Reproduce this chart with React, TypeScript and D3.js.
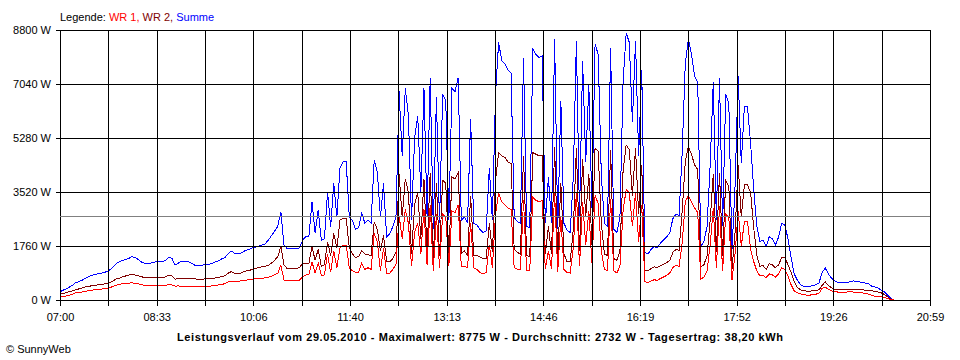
import React, { useEffect, useRef } from "react";
import * as d3 from "d3";

// time axis: 07:00 .. 20:59, samples every 3 minutes starting 07:00
const startMinute = 420;
const endMinute = 1259;
const stepMinutes = 3;

const xTickLabels = ["07:00", "08:33", "10:06", "11:40", "13:13", "14:46", "16:19", "17:52", "19:26", "20:59"];
const yTicks = [0, 1760, 3520, 5280, 7040, 8800];
const average = 2732;

const legendItems = [
    { text: "WR 1", color: "#ff0000" },
    { text: "WR 2", color: "#800000" },
    { text: "Summe", color: "#0000ff" },
];

const title = "Leistungsverlauf vom 29.05.2010 - Maximalwert: 8775 W - Durchschnitt: 2732 W - Tagesertrag: 38,20 kWh";

// Summe (W)
const summe = [
    270, 320, 360, 420, 480, 560, 600, 640, 700, 750,
    800, 830, 850, 860, 900, 920, 980, 1080, 1180, 1240,
    1290, 1310, 1350, 1410, 1390, 1330, 1250, 1200, 1190, 1200,
    1230, 1250, 1250, 1240, 1300, 1400, 1350, 1140, 1200, 1260,
    1270, 1250, 1220, 1150, 1110, 1120, 1140, 1170, 1170, 1200,
    1250, 1280, 1340, 1380, 1500, 1600, 1530, 1530, 1520, 1580,
    1630, 1660, 1710, 1730, 1760, 1790, 1830, 1960, 2100, 2250,
    2400, 2880, 1790, 1680, 1680, 1680, 1680, 1700, 1950, 2060,
    2060, 3200, 2180, 2930, 1950, 2000, 3530, 2390, 3810, 2710,
    4300, 4500, 4500, 2710, 2600, 2310, 2360, 2830, 2500, 2600,
    2500, 4560, 4180, 2700, 3800, 2060, 2150, 2400, 2700, 6800,
    4700, 6900, 6000, 2600, 5300, 6000, 3500, 6900, 2700, 7250,
    2300, 6600, 2500, 6700, 6500, 2600, 6900, 6800, 7250, 2600,
    2700, 2500, 5900, 2500, 2450, 2300, 2200, 2250, 4300, 2600,
    6700, 8400, 7800, 7700, 7500, 7400, 2700, 2550, 2500, 7900,
    2400, 2350, 8200, 8000, 7900, 7950, 2500, 4000, 2500, 8500,
    2300, 6500, 2500, 2280, 2200, 4000, 8450, 2700, 7800, 4500,
    7000, 3000, 8350, 8000, 4100, 2500, 2400, 8200, 2300, 2200,
    2700, 7100, 8700, 8400, 5800, 8450, 4700, 7500, 1550, 1500,
    1650, 1750, 1700, 1850, 1950, 2050, 2180, 2650, 2800, 2750,
    4800, 7700, 8500, 8000, 7300, 7100, 1750, 1900, 2400, 4400,
    7100, 2600, 7230, 2400, 6700, 6400, 1600, 3700, 7300, 4450,
    6300, 6300, 5100, 3600, 2400, 1900, 1950, 1750, 2060, 2000,
    1800, 2050, 2500, 2450, 2000, 1400, 850, 650, 500, 450,
    430, 440, 470, 500, 560, 900, 1040, 850, 710, 620,
    570, 565, 565, 570, 600, 620, 610, 590, 570, 550,
    520, 450, 420, 390, 320, 270, 170, 60, 0,
];

// WR 2 (W)
const wr2 = [
    185, 210, 240, 270, 300, 330, 360, 390, 420, 440,
    460, 480, 490, 500, 520, 540, 570, 620, 680, 710,
    750, 780, 810, 840, 820, 790, 760, 740, 720, 730,
    730, 720, 720, 730, 760, 810, 790, 680, 690, 700,
    700, 700, 700, 690, 680, 680, 680, 690, 700, 710,
    720, 740, 760, 790, 870, 920, 880, 880, 870, 920,
    950, 970, 1000, 1030, 1060, 1080, 1100, 1130, 1200, 1300,
    1410, 1740, 1140, 1030, 1030, 1030, 1030, 1050, 1195, 1195,
    1195, 1740, 1300, 1650, 1100, 1150, 1900, 1450, 2170, 1700,
    2600, 2660, 2660, 1700, 1500, 1380, 1420, 1600, 1500, 1480,
    1450, 2550, 2300, 1600, 2100, 1250, 1250, 1350, 1550, 4100,
    2700, 3950, 3500, 1500, 3100, 3500, 2000, 3950, 1550, 4150,
    1350, 3800, 1450, 3900, 3800, 1500, 4000, 3950, 4150, 1500,
    1600, 1450, 3400, 1450, 1450, 1400, 1350, 1350, 2500, 1550,
    3900, 4800, 4700, 4650, 4500, 4450, 1650, 1550, 1500, 4700,
    1450, 1400, 4800, 4750, 4700, 4700, 1500, 2400, 1500, 5000,
    1400, 3800, 1500, 1250, 1250, 2300, 4950, 1600, 4600, 2700,
    4100, 1800, 4950, 4850, 2500, 1500, 1450, 4900, 1350, 1300,
    1600, 4200, 5050, 4900, 3400, 4950, 2800, 4400, 980, 950,
    1020, 1080, 1060, 1120, 1170, 1220, 1280, 1550, 1650, 1620,
    2900, 4500, 5000, 4750, 4400, 4250, 1080, 1150, 1450, 2600,
    4100, 1550, 4150, 1450, 3900, 3700, 1000, 2200, 4400, 2700,
    3750, 3750, 3500, 2350, 1450, 1100, 1120, 1000, 1180, 1150,
    1050, 1150, 1380, 1400, 1150, 900, 600, 420, 330, 300,
    290, 290, 300, 310, 330, 480, 590, 480, 400, 350,
    340, 340, 340, 350, 350, 350, 340, 330, 330, 320,
    310, 300, 280, 260, 230, 180, 110, 30, 0,
];

// WR 1 (W)
const wr1 = [
    90, 110, 130, 160, 190, 230, 250, 260, 280, 300,
    320, 330, 340, 350, 370, 380, 400, 440, 480, 510,
    530, 540, 550, 560, 550, 530, 500, 480, 470, 470,
    480, 480, 480, 470, 480, 500, 490, 450, 460, 450,
    450, 450, 450, 440, 430, 430, 440, 440, 450, 460,
    480, 490, 510, 530, 590, 620, 600, 610, 620, 640,
    650, 660, 680, 690, 700, 710, 720, 740, 780, 830,
    870, 1140, 650, 650, 650, 650, 650, 650, 760, 815,
    815, 1250, 880, 1200, 800, 820, 1500, 900, 1600, 1050,
    1700, 1790, 1790, 1050, 950, 900, 900, 1200, 1000, 1050,
    1000, 2170, 1900, 960, 1700, 870, 880, 1000, 1150, 2750,
    2000, 2950, 2500, 1100, 2200, 2500, 1500, 2950, 1150, 3100,
    950, 2800, 1050, 2800, 2700, 1100, 2900, 2850, 3100, 1100,
    1100, 1050, 2500, 1050, 1000, 900, 850, 900, 1800, 1050,
    2800, 3500, 3200, 3100, 3000, 2950, 1050, 1000, 1000, 3250,
    950, 950, 3350, 3250, 3200, 3250, 1000, 1600, 1000, 3500,
    900, 2700, 1000, 900, 880, 1700, 3500, 1100, 3200, 1800,
    2900, 1200, 3400, 3150, 1600, 1000, 950, 3300, 950, 880,
    1100, 2900, 3600, 3500, 2400, 3500, 1900, 3100, 600, 560,
    620, 660, 640, 700, 750, 800, 880, 1060, 1130, 1100,
    1850, 3200, 3400, 3200, 3000, 2850, 680, 750, 950, 1800,
    3000, 1050, 3050, 950, 2800, 2700, 650, 1500, 2900, 1750,
    2550, 2550, 1650, 1250, 950, 780, 800, 730, 850, 820,
    750, 850, 1050, 1000, 800, 500, 300, 240, 200, 170,
    160, 160, 170, 190, 220, 380, 420, 350, 300, 270,
    260, 250, 260, 260, 270, 260, 250, 240, 230, 220,
    190, 150, 120, 110, 100, 80, 50, 20, 0,
];

const WIDTH = 960;
const HEIGHT = 360;
const FONT = "'Liberation Sans', Arial, sans-serif";

function PowerChart() {
    const ref = useRef<SVGSVGElement | null>(null);

    useEffect(() => {
        drawChart();
    }, []);

    function drawChart() {
        const svg = d3.select(ref.current);
        svg.selectAll("*").remove();

        const margin = { top: 30, right: 30, bottom: 60, left: 60 };

        const x = d3.scaleLinear()
            .domain([startMinute, endMinute])
            .range([margin.left, WIDTH - margin.right]);

        const y = d3.scaleLinear()
            .domain([0, 8800])
            .range([HEIGHT - margin.bottom, margin.top]);

        const minuteOf = (i: number) => startMinute + i * stepMinutes;

        const line = d3.line<number>()
            .x((d, i) => x(minuteOf(i)))
            .y(d => y(d));

        svg.append("rect")
            .attr("width", WIDTH)
            .attr("height", HEIGHT)
            .attr("fill", "#ffffff");

        // lines: Summe under, then WR 2, WR 1
        const series = [
            { name: "Summe", values: summe, color: "#0000ff" },
            { name: "WR 2", values: wr2, color: "#800000" },
            { name: "WR 1", values: wr1, color: "#ff0000" },
        ];

        svg.append("g")
            .selectAll("path")
            .data(series)
            .enter()
            .append("path")
            .attr("d", d => line(d.values))
            .attr("fill", "none")
            .attr("stroke", d => d.color)
            .attr("stroke-width", 1)
            .attr("shape-rendering", "crispEdges");

        // grid
        const gridMinutes = d3.range(19).map(k => startMinute + k * (endMinute - startMinute) / 18);
        const grid = svg.append("g")
            .attr("stroke", "#000000")
            .attr("stroke-width", 1)
            .attr("shape-rendering", "crispEdges");

        grid.selectAll("line.v")
            .data(gridMinutes)
            .enter()
            .append("line")
            .attr("class", "v")
            .attr("x1", d => Math.round(x(d)) + 0.5)
            .attr("x2", d => Math.round(x(d)) + 0.5)
            .attr("y1", y(8800))
            .attr("y2", y(0) + 6);

        grid.selectAll("line.h")
            .data(yTicks)
            .enter()
            .append("line")
            .attr("class", "h")
            .attr("x1", x(startMinute) - 4)
            .attr("x2", x(endMinute) + 1)
            .attr("y1", d => Math.round(y(d)) + 0.5)
            .attr("y2", d => Math.round(y(d)) + 0.5);

        // average line
        svg.append("line")
            .attr("x1", x(startMinute))
            .attr("x2", x(endMinute))
            .attr("y1", Math.round(y(average)) + 0.5)
            .attr("y2", Math.round(y(average)) + 0.5)
            .attr("stroke", "#808080")
            .attr("stroke-width", 1)
            .attr("shape-rendering", "crispEdges");

        // y labels
        svg.append("g")
            .selectAll("text")
            .data(yTicks)
            .enter()
            .append("text")
            .attr("x", x(startMinute) - 9)
            .attr("y", d => y(d) + 4)
            .attr("text-anchor", "end")
            .attr("font-family", FONT)
            .attr("font-size", 11)
            .text(d => `${d} W`);

        // x labels
        svg.append("g")
            .selectAll("text")
            .data(xTickLabels)
            .enter()
            .append("text")
            .attr("x", (d, k) => x(startMinute + k * (endMinute - startMinute) / 9) + 0.5)
            .attr("y", y(0) + 21)
            .attr("text-anchor", "middle")
            .attr("font-family", FONT)
            .attr("font-size", 11)
            .text(d => d);

        // legend
        const legend = svg.append("text")
            .attr("x", x(startMinute))
            .attr("y", 21)
            .attr("font-family", FONT)
            .attr("font-size", 11);
        legend.append("tspan").attr("fill", "#000000").text("Legende: ");
        legendItems.forEach((item, k) => {
            legend.append("tspan")
                .attr("fill", item.color)
                .text(item.text + (k < legendItems.length - 1 ? ", " : ""));
        });

        // title
        svg.append("text")
            .attr("x", 480)
            .attr("y", 341)
            .attr("text-anchor", "middle")
            .attr("font-family", FONT)
            .attr("font-size", 11)
            .attr("font-weight", "bold")
            .attr("textLength", 606)
            .attr("lengthAdjust", "spacing")
            .text(title);

        svg.append("text")
            .attr("x", 6)
            .attr("y", 353)
            .attr("font-family", FONT)
            .attr("font-size", 11)
            .text("\u00a9 SunnyWeb");
    }

    return (
        <svg
            ref={ref}
            width={WIDTH}
            height={HEIGHT}
            style={{ position: "absolute", left: 0, top: 0, display: "block" }}
        />
    );
}

export default function App() {
    return <PowerChart />;
}
